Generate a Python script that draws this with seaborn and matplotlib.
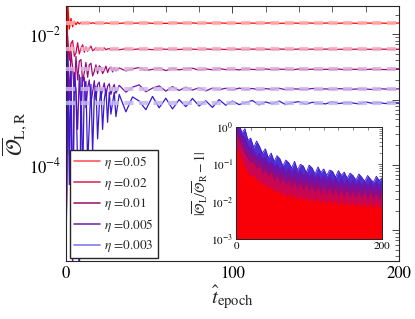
import numpy as np
import pandas as pd
import seaborn as sns
import matplotlib.pyplot as plt
from matplotlib.ticker import FixedLocator, FuncFormatter, NullFormatter, LogLocator

sns.set_style("white")
plt.rcParams["font.family"] = ["STIXGeneral", "DejaVu Serif"]
plt.rcParams["mathtext.fontset"] = "stix"

# ---------------- data ----------------
etas = ["0.05", "0.02", "0.01", "0.005", "0.003"]
colors = ["#ff0000", "#d0064c", "#9a0a78", "#7012a8", "#3a18d0"]
band_colors = ["#ffb0b0", "#f0b0c8", "#dcb0d8", "#d0b8e8", "#c0b8f0"]
legend_colors = ["#ff5a5a", "#e0305e", "#a0206e", "#7a30b0", "#8878f0"]

# converged levels (units of 1e-3)
levels = [14.8, 5.9, 2.9, 1.45, 0.89]

epochs = list(range(0, 31)) + list(range(32, 201, 4))

# main curves, units of 1e-3
obs_005 = [0.002, 32, 12.0, 17.5, 13.0, 15.8, 14.0, 15.4, 14.4, 15.1,
           14.5, 15.0, 14.9, 14.6, 15.0, 14.7, 14.95, 14.8, 14.6, 15.0,
           14.7, 14.9, 14.85, 14.65, 14.9, 14.8, 14.7, 14.95, 14.75, 14.85, 14.8,
           14.7, 14.9, 14.75, 14.85, 14.95, 14.7, 14.8, 14.65, 14.9, 14.8,
           14.75, 14.9, 14.7, 14.85, 14.8, 14.95, 14.75, 14.8, 14.7, 14.9,
           14.8, 14.75, 14.85, 14.9, 14.7, 14.8, 14.85, 14.75, 14.9, 14.8,
           14.7, 14.85, 14.8, 14.75, 14.9, 14.8, 14.7, 14.85, 14.8, 14.9,
           14.75, 14.8, 14.85]
obs_002 = [0.003, 9.5, 4.0, 7.2, 8.0, 4.6, 5.2, 7.4, 5.0, 6.1,
           6.9, 5.3, 6.4, 5.5, 6.0, 6.6, 5.6, 5.8, 6.3, 5.65,
           6.1, 5.9, 5.7, 6.2, 5.8, 5.95, 6.05, 5.75, 6.0, 5.85, 5.95,
           5.8, 6.0, 5.85, 5.95, 5.9, 5.82, 6.0, 5.88, 5.93, 5.84,
           5.96, 5.9, 5.86, 5.94, 5.88, 5.92, 5.85, 5.95, 5.9, 5.87,
           5.93, 5.89, 5.92, 5.86, 5.94, 5.9, 5.88, 5.93, 5.89, 5.91,
           5.87, 5.93, 5.9, 5.88, 5.92, 5.89, 5.91, 5.9, 5.88, 5.92,
           5.9, 5.89, 5.91]
obs_001 = [0.002, 6.0, 1.0, 5.5, 3.0, 1.3, 4.6, 2.0, 3.9, 4.1,
           1.9, 2.6, 3.7, 2.2, 3.4, 3.6, 2.3, 2.7, 3.4, 2.5,
           3.3, 3.1, 2.5, 2.8, 3.25, 2.6, 3.0, 3.15, 2.65, 3.1, 2.75,
           3.05, 2.75, 2.95, 3.1, 2.8, 2.9, 3.05, 2.78, 3.0, 2.85,
           2.97, 3.02, 2.82, 2.95, 2.86, 2.98, 2.88, 2.93, 2.85, 2.96,
           2.9, 2.87, 2.94, 2.88, 2.92, 2.91, 2.86, 2.94, 2.89, 2.92,
           2.88, 2.91, 2.9, 2.93, 2.87, 2.91, 2.9, 2.89, 2.92, 2.9,
           2.88, 2.91, 2.9]
obs_0005 = [0.003, 3.5, 0.15, 3.0, 0.002, 2.6, 1.4, 0.35, 2.4, 0.6,
            1.9, 2.2, 0.75, 1.5, 2.0, 0.9, 1.3, 1.95, 1.0, 1.7,
            1.85, 1.1, 1.4, 1.8, 1.15, 1.6, 1.75, 1.2, 1.5, 1.7, 1.25,
            1.65, 1.3, 1.55, 1.68, 1.32, 1.5, 1.62, 1.35, 1.58, 1.38,
            1.55, 1.4, 1.52, 1.36, 1.5, 1.42, 1.49, 1.4, 1.5, 1.43,
            1.48, 1.41, 1.47, 1.44, 1.49, 1.42, 1.46, 1.45, 1.43, 1.48,
            1.44, 1.46, 1.43, 1.47, 1.45, 1.44, 1.46, 1.45, 1.43, 1.47,
            1.45, 1.44, 1.46]
obs_0003 = [0.002, 5.0, 0.05, 3.0, 0.02, 2.5, 1.2, 0.1, 0.001, 2.2,
            0.06, 1.5, 1.9, 0.1, 0.4, 1.7, 0.15, 1.1, 1.6, 0.25,
            0.8, 1.5, 0.35, 1.0, 1.45, 0.45, 1.3, 0.6, 0.9, 1.3, 0.55,
            1.2, 0.65, 1.1, 0.95, 0.7, 1.12, 0.75, 1.05, 0.72, 1.0,
            0.78, 1.04, 0.8, 0.96, 0.76, 1.0, 0.82, 0.95, 0.84, 0.9,
            0.97, 0.83, 0.92, 0.86, 0.95, 0.84, 0.9, 0.93, 0.85, 0.91,
            0.88, 0.86, 0.93, 0.87, 0.9, 0.89, 0.86, 0.92, 0.88, 0.9,
            0.87, 0.91, 0.89]
series = [obs_005, obs_002, obs_001, obs_0005, obs_0003]

# inset: upper envelope of |O_L/O_R - 1|
epochs_in = list(range(0, 201, 4))
dev_0003 = [1.5, 1.2, 0.7, 0.9, 0.45, 0.5, 0.28, 0.42, 0.3, 0.2,
            0.26, 0.15, 0.2, 0.12, 0.17, 0.14, 0.09, 0.13, 0.11, 0.08,
            0.12, 0.07, 0.1, 0.09, 0.06, 0.095, 0.08, 0.055, 0.085, 0.06,
            0.075, 0.05, 0.07, 0.065, 0.045, 0.068, 0.05, 0.062, 0.042, 0.058,
            0.05, 0.038, 0.055, 0.045, 0.035, 0.05, 0.04, 0.033, 0.048, 0.036, 0.044]
dev_0005 = [1.2, 0.85, 0.6, 0.5, 0.32, 0.28, 0.22, 0.16, 0.2, 0.13,
            0.16, 0.1, 0.12, 0.085, 0.1, 0.07, 0.09, 0.06, 0.08, 0.055,
            0.075, 0.05, 0.068, 0.048, 0.06, 0.045, 0.058, 0.04, 0.052, 0.038,
            0.05, 0.035, 0.046, 0.034, 0.044, 0.03, 0.042, 0.029, 0.04, 0.028,
            0.038, 0.027, 0.036, 0.026, 0.035, 0.025, 0.034, 0.024, 0.033, 0.023, 0.031]
dev_001 = [0.9, 0.5, 0.42, 0.25, 0.22, 0.15, 0.17, 0.1, 0.13, 0.075,
           0.1, 0.06, 0.085, 0.05, 0.065, 0.045, 0.058, 0.037, 0.05, 0.035,
           0.046, 0.03, 0.042, 0.028, 0.038, 0.026, 0.036, 0.024, 0.034, 0.022,
           0.032, 0.021, 0.03, 0.02, 0.029, 0.019, 0.028, 0.018, 0.027, 0.017,
           0.026, 0.016, 0.025, 0.016, 0.024, 0.015, 0.023, 0.015, 0.022, 0.014, 0.021]
dev_002 = [0.6, 0.4, 0.25, 0.18, 0.13, 0.1, 0.11, 0.07, 0.085, 0.05,
           0.065, 0.042, 0.055, 0.034, 0.045, 0.028, 0.038, 0.025, 0.034, 0.022,
           0.031, 0.02, 0.028, 0.018, 0.026, 0.017, 0.024, 0.016, 0.023, 0.015,
           0.022, 0.014, 0.021, 0.013, 0.02, 0.013, 0.019, 0.012, 0.018, 0.012,
           0.017, 0.011, 0.017, 0.011, 0.016, 0.01, 0.016, 0.01, 0.015, 0.01, 0.014]
dev_005 = [0.3, 0.2, 0.12, 0.08, 0.06, 0.045, 0.05, 0.032, 0.038, 0.024,
           0.03, 0.02, 0.025, 0.016, 0.021, 0.014, 0.018, 0.012, 0.016, 0.011,
           0.015, 0.01, 0.014, 0.0095, 0.013, 0.009, 0.012, 0.0085, 0.012, 0.008,
           0.011, 0.0078, 0.011, 0.0075, 0.0105, 0.0072, 0.01, 0.007, 0.0098, 0.0068,
           0.0095, 0.0066, 0.0092, 0.0064, 0.009, 0.0062, 0.0088, 0.006, 0.0086, 0.0058, 0.0085]
devs = [dev_005, dev_002, dev_001, dev_0005, dev_0003]

# ---------------- figure ----------------
fig = plt.figure(figsize=(4.15, 3.19), dpi=100)
ax = fig.add_axes([0.159, 0.182, 0.802, 0.799])

for eta, c, bc, lev, vals in zip(etas, colors, band_colors, levels, series):
    df = pd.DataFrame({"epoch": epochs, "obs": np.array(vals) * 1e-3})
    sns.lineplot(data=df, x="epoch", y="obs", color=c, lw=0.9, ax=ax, legend=False)
    ax.axhline(lev * 1e-3, color=bc, lw=3.0, ls=(0, (2.2, 1.3)), alpha=0.85, zorder=3)

ax.set_yscale("log")
ax.set_xlim(0, 200)
ax.set_ylim(3.4e-6, 2.7e-2)

ax.xaxis.set_major_locator(FixedLocator([0, 100, 200]))
ax.xaxis.set_minor_locator(FixedLocator(list(range(0, 201, 20))))
ax.yaxis.set_major_locator(FixedLocator([1e-6, 1e-5, 1e-4, 1e-3, 1e-2, 1e-1]))
ax.yaxis.set_minor_locator(LogLocator(base=10, subs=np.arange(2, 10), numticks=20))
ax.yaxis.set_major_formatter(FuncFormatter(
    lambda v, p: {1e-2: r"$10^{-2}$", 1e-4: r"$10^{-4}$"}.get(float(f"{v:.0e}"), "")))
ax.yaxis.set_minor_formatter(NullFormatter())
ax.tick_params(which="both", direction="in", top=True, right=True, colors="#262626",
               labelcolor="black", labelsize=12)
ax.tick_params(which="major", length=5, width=0.6)
ax.tick_params(which="minor", length=3, width=0.5)
ax.tick_params(axis="x", which="minor", length=4)
for s in ax.spines.values():
    s.set_color("#262626")
    s.set_linewidth(0.8)

ax.set_xlabel(r"$\hat{t}_{\rm epoch}$", fontsize=15, labelpad=1)
ax.set_ylabel(r"$\overline{\mathcal{O}}_{\rm L,R}$", fontsize=16, labelpad=0)

leg_handles = [plt.Line2D([], [], color=c, lw=1.2) for c in legend_colors]
ax.legend(leg_handles, [r"$\eta$ =" + e for e in etas], loc="lower left",
          bbox_to_anchor=(0.012, 0.01), fontsize=9.5, frameon=True, fancybox=False,
          edgecolor="#262626", framealpha=1, labelspacing=0.35, handlelength=2.0,
          handletextpad=0.3, borderpad=0.3, borderaxespad=0)

# ---------------- inset ----------------
axi = fig.add_axes([0.569, 0.251, 0.352, 0.351])
for c, d in zip(colors[::-1], devs[::-1]):
    dfi = pd.DataFrame({"epoch": epochs_in, "dev": d})
    sns.lineplot(data=dfi, x="epoch", y="dev", color=c, lw=0.6, ax=axi, legend=False)
    axi.fill_between(dfi["epoch"], 1e-4, dfi["dev"], color=c, alpha=0.9, lw=0)
axi.set_yscale("log")
axi.set_xlim(0, 200)
axi.set_ylim(1e-3, 1)
axi.xaxis.set_major_locator(FixedLocator([0, 200]))
axi.xaxis.set_minor_locator(FixedLocator(list(range(0, 201, 20))))
axi.tick_params(which="both", direction="in", top=True, right=True, labelsize=8,
                colors="#262626", labelcolor="black")
axi.tick_params(which="major", length=3, width=0.5, pad=2)
axi.tick_params(which="minor", length=2, width=0.4)
for s in axi.spines.values():
    s.set_color("#262626")
    s.set_linewidth(0.7)
axi.set_xlabel("")
axi.set_ylabel(r"$|\overline{\mathcal{O}}_{\rm L}/\overline{\mathcal{O}}_{\rm R}-1|$", fontsize=10, labelpad=1)

fig.savefig("out.png", dpi=100)
